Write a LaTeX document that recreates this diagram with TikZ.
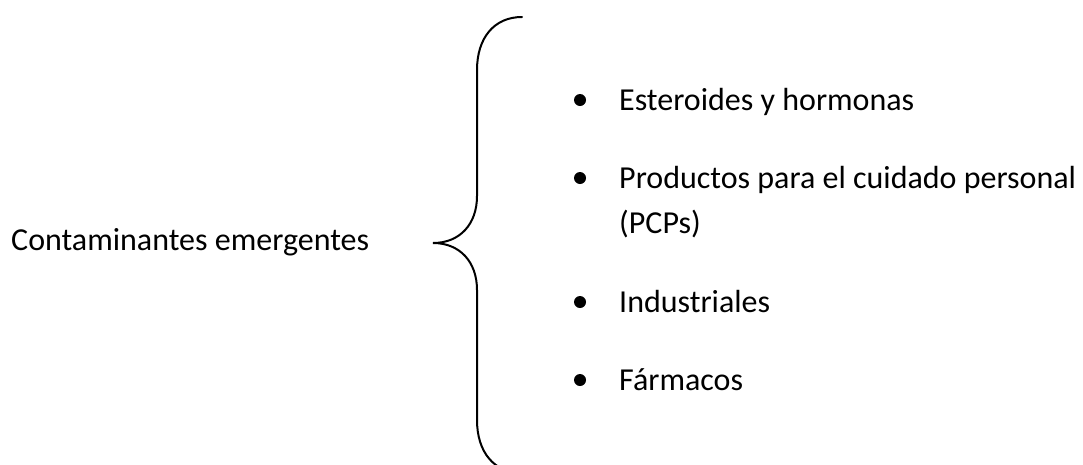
\documentclass[tikz,border=0pt]{standalone}
\usepackage{fontspec}
\setmainfont{Carlito}
\begin{document}
\begin{tikzpicture}[x=1pt,y=-1pt,
  lbl/.style={anchor=base west,inner sep=0pt,font=\fontsize{32}{45}\selectfont},
  bulletdot/.style={circle,fill=black,inner sep=0pt,minimum size=12pt},
  bracestyle/.style={line width=2pt,line cap=round}]
\useasboundingbox (0,0) rectangle (1083,464);
\clip (0,0) rectangle (1083,464);
% left label
\node[lbl] (main) at (11,250) {Contaminantes emergentes};
% brace
\coordinate (btop) at (522,17);
\coordinate (btip) at (433,243);
\coordinate (bbot) at (522,473);
\draw[bracestyle] (btop) .. controls (494,17) and (477,38) .. (477,70)
  -- (477,196) .. controls (477,224) and (460,243) .. (btip)
  .. controls (460,243) and (477,262) .. (477,290)
  -- (477,420) .. controls (477,452) and (494,473) .. (bbot);
% bullets and items
\node[bulletdot] (b1) at (580,100) {};
\node[lbl] (i1) at (619,110) {Esteroides y hormonas};
\node[bulletdot] (b2) at (580,178) {};
\node[lbl] (i2a) at (619,188) {Productos para el cuidado personal};
\node[lbl] (i2b) at (619,233) {(PCPs)};
\node[bulletdot] (b3) at (580,302) {};
\node[lbl] (i3) at (619,312) {Industriales};
\node[bulletdot] (b4) at (580,380) {};
\node[lbl] (i4) at (619,390) {Fármacos};
\end{tikzpicture}
\end{document}
